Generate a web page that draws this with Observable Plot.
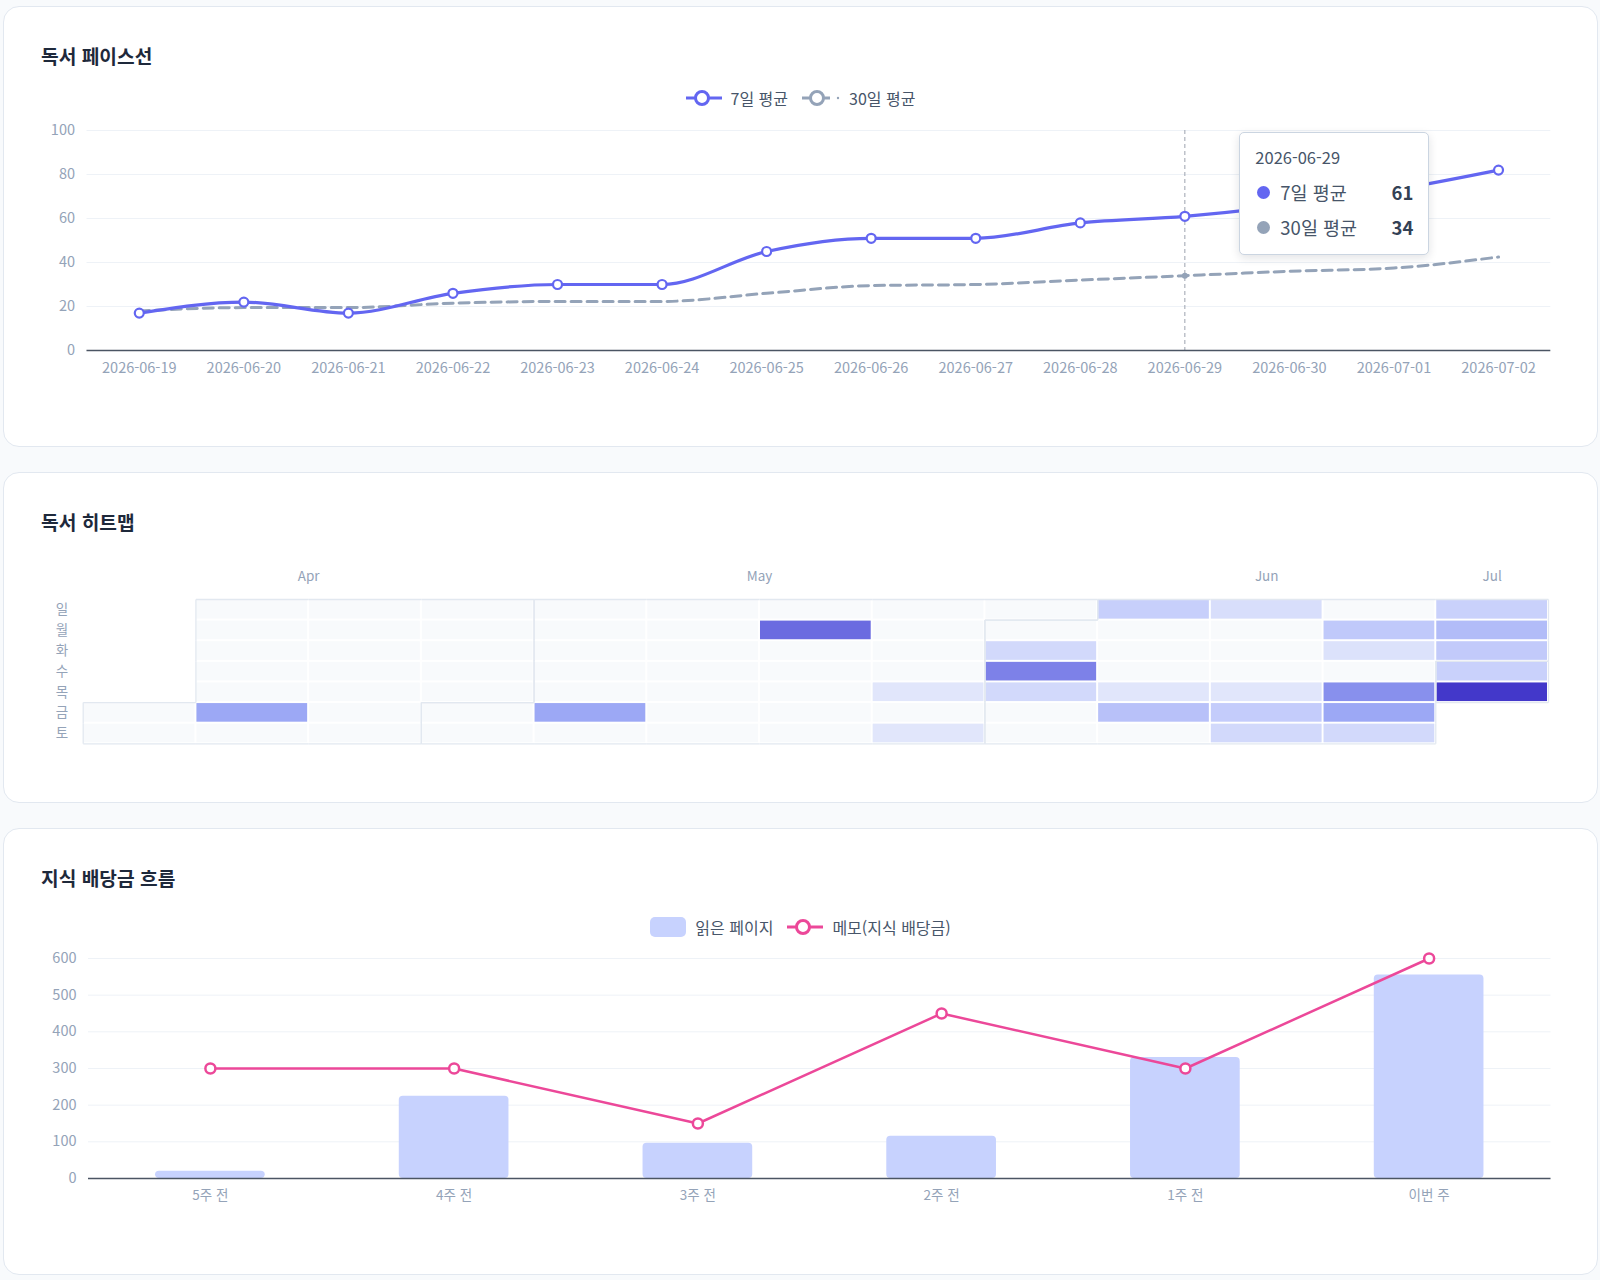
<!DOCTYPE html>
<html lang="ko">
<head>
<meta charset="utf-8">
<script src="https://cdn.jsdelivr.net/npm/d3@7"></script>
<script src="https://cdn.jsdelivr.net/npm/@observablehq/plot@0.6"></script>
<style>
html,body{margin:0;padding:0}
body{width:1600px;height:1280px;background:#f8fafc;position:relative;overflow:hidden;font-family:"Noto Sans CJK KR","Noto Sans",sans-serif}
.card{position:absolute;left:3px;width:1595px;box-sizing:border-box;background:#fff;border:1px solid #e2e8f0;border-radius:16px}
.title{position:absolute;left:37px;top:37px;line-height:24px;font-size:19.2px;font-weight:700;color:#1e293b;white-space:nowrap}
.legend{position:absolute;left:0;right:0;height:24px;display:flex;justify-content:center;align-items:center;font-size:16px;color:#475569;white-space:nowrap}
.legend .item{display:flex;align-items:center;margin:0 7px}
.legend svg{margin-right:9px;display:block}
.chart{position:absolute;left:0}
.chart svg{display:block;overflow:visible}
.tip{position:absolute;width:190px;height:123px;box-sizing:border-box;background:#fff;border:1px solid #cbd5e1;border-radius:5px;box-shadow:0 3px 10px rgba(15,23,42,0.12);padding:12px 15px 0 15px;color:#475569;font-size:18.5px}
.tip .date{line-height:24px;height:24px;font-size:16.5px}
.tip .row{display:flex;align-items:center;height:24px;line-height:24px;margin-top:11px}
.tip .dot{width:13px;height:13px;border-radius:50%;margin-right:10px;margin-left:2px}
.tip .lab{flex:1}
.tip .val{font-weight:700;color:#334155}
</style>
</head>
<body>
<div class="card" id="c1" style="top:6px;height:441px">
  <div class="title">독서 페이스선</div>
  <div class="legend" id="lg1" style="top:79px"></div>
  <div class="chart" id="ch1" style="top:105px"></div>
</div>
<div class="card" id="c2" style="top:472px;height:331px">
  <div class="title">독서 히트맵</div>
  <div class="chart" id="ch2" style="top:87px"></div>
</div>
<div class="card" id="c3" style="top:828px;height:447px">
  <div class="title">지식 배당금 흐름</div>
  <div class="legend" id="lg3" style="top:86px"></div>
  <div class="chart" id="ch3" style="top:111px"></div>
</div>
<script>
// ---------- DATA ----------
// 독서 페이스선
const paceDates = ["2026-06-19","2026-06-20","2026-06-21","2026-06-22","2026-06-23","2026-06-24","2026-06-25","2026-06-26","2026-06-27","2026-06-28","2026-06-29","2026-06-30","2026-07-01","2026-07-02"];
const avg7 = [17, 22, 17, 26, 30, 30, 45, 51, 51, 58, 61, 66, 73, 82];
const avg30 = [18, 19.5, 19.5, 21.5, 22.3, 22.3, 26, 29.5, 30, 32, 34, 36, 37.5, 42.5];
const paceTicks = [0, 20, 40, 60, 80, 100];
const seriesNames = ["7일 평균", "30일 평균"];
const hoverDate = "2026-06-29";

// 독서 히트맵
const heatStart = "2026-04-10";
const heatEnd = "2026-07-02";
const readingDates = ["2026-04-17","2026-05-08","2026-05-18","2026-05-28","2026-05-30","2026-06-02","2026-06-03","2026-06-04","2026-06-07","2026-06-11","2026-06-12","2026-06-14","2026-06-18","2026-06-19","2026-06-20","2026-06-22","2026-06-23","2026-06-25","2026-06-26","2026-06-27","2026-06-28","2026-06-29","2026-06-30","2026-07-01","2026-07-02"];
const readingPages = [50, 50, 75, 2, 2, 15, 66, 15, 25, 2, 34, 10, 2, 27, 15, 29, 6, 60, 50, 15, 23, 37, 28, 23, 100];
const dayNames = ["일","월","화","수","목","금","토"];
const monthNames = ["Jan","Feb","Mar","Apr","May","Jun","Jul","Aug","Sep","Oct","Nov","Dec"];

// 지식 배당금 흐름
const weekLabels = ["5주 전","4주 전","3주 전","2주 전","1주 전","이번 주"];
const pagesRead = [20, 224, 96, 115, 330, 555];
const memoDividend = [300, 300, 150, 450, 300, 600];
const flowTicks = [0, 100, 200, 300, 400, 500, 600];
const flowNames = ["읽은 페이지", "메모(지식 배당금)"];

// ---------- STYLE ----------
const C7 = "#6366f1", C30 = "#94a3b8", CBAR = "#c7d2fe", CMEMO = "#ec4899";
const FONT = '"Noto Sans CJK KR","Noto Sans",sans-serif';
const W = 1593;
const baseStyle = {fontFamily: FONT, fontSize: "13px", color: "#94a3b8", background: "transparent", overflow: "visible"};
const gridColor = "#eef2f7", axisColor = "#4b5563";

// ---------- LEGENDS ----------
function lineSym(color, dashed) {
  if (dashed) {
    return `<svg width="38" height="18"><line x1="0" y1="9" x2="28" y2="9" stroke="${color}" stroke-width="3"/><circle cx="15" cy="9" r="6.5" fill="#fff" stroke="${color}" stroke-width="3"/><circle cx="36" cy="9" r="1.2" fill="${color}"/></svg>`;
  }
  return `<svg width="36" height="18"><line x1="0" y1="9" x2="36" y2="9" stroke="${color}" stroke-width="3"/><circle cx="16" cy="9" r="6.5" fill="#fff" stroke="${color}" stroke-width="3"/></svg>`;
}
document.getElementById("lg1").innerHTML =
  `<span class="item">${lineSym(C7,false)}<span>${seriesNames[0]}</span></span>` +
  `<span class="item">${lineSym(C30,true)}<span>${seriesNames[1]}</span></span>`;
document.getElementById("lg3").innerHTML =
  `<span class="item"><svg width="36" height="20"><rect x="0" y="0" width="36" height="20" rx="5" fill="${CBAR}"/></svg><span>${flowNames[0]}</span></span>` +
  `<span class="item">${lineSym(CMEMO,false)}<span>${flowNames[1]}</span></span>`;

// ---------- CHART 1 ----------
const paceRows = paceDates.map((d, i) => ({date: d, a7: avg7[i], a30: avg30[i]}));
const hoverRow = paceRows.filter(r => r.date === hoverDate);
const ch1 = Plot.plot({
  width: W, height: 283, marginTop: 18, marginBottom: 45, marginLeft: 82.5, marginRight: 46.7,
  style: baseStyle,
  x: {type: "point", domain: paceDates, padding: 0.5, round: false, label: null},
  y: {domain: [0, 100], label: null},
  marks: [
    Plot.gridY(paceTicks, {stroke: gridColor, strokeOpacity: 1, strokeWidth: 1}),
    Plot.axisY(paceTicks, {tickSize: 0, tickPadding: 12, label: null, fontSize: 14.5}),
    Plot.axisX({tickSize: 0, tickPadding: 12, label: null, fontSize: 14.5}),
    Plot.ruleX(hoverRow, {x: "date", stroke: "#9ca3af", strokeWidth: 1, strokeDasharray: "4,3"}),
    Plot.line(paceRows, {x: "date", y: "a30", curve: "monotone-x", stroke: C30, strokeWidth: 3, strokeDasharray: "10,6"}),
    Plot.dot(hoverRow, {x: "date", y: "a30", r: 3, fill: C30}),
    Plot.line(paceRows, {x: "date", y: "a7", curve: "monotone-x", stroke: C7, strokeWidth: 3.2}),
    Plot.dot(paceRows, {x: "date", y: "a7", r: 4.5, fill: "#fff", stroke: C7, strokeWidth: 2.2}),
    Plot.ruleY([0], {stroke: axisColor, strokeWidth: 1.5})
  ]
});
document.getElementById("ch1").appendChild(ch1);
// tooltip anchored to the hovered date through the x scale
const hx = ch1.scale("x").apply(hoverDate);
const tip = document.createElement("div");
tip.className = "tip";
tip.style.left = (hx + 55) + "px";
tip.style.top = "125px";
tip.innerHTML = `<div class="date">${hoverDate}</div>` +
  `<div class="row"><span class="dot" style="background:${C7}"></span><span class="lab">${seriesNames[0]}</span><span class="val">${Math.round(hoverRow[0].a7)}</span></div>` +
  `<div class="row"><span class="dot" style="background:${C30}"></span><span class="lab">${seriesNames[1]}</span><span class="val">${Math.round(hoverRow[0].a30)}</span></div>`;
document.getElementById("c1").appendChild(tip);

// ---------- CHART 2 (heatmap) ----------
const start = new Date(heatStart), end = new Date(heatEnd);
const week0 = d3.utcSunday.floor(start);
const pageByDate = new Map(readingDates.map((d, i) => [d, readingPages[i]]));
const fmt = d3.utcFormat("%Y-%m-%d");
const days = d3.utcDay.range(start, d3.utcDay.offset(end, 1)).map(dt => ({
  key: fmt(dt), w: d3.utcSunday.count(week0, dt), d: dt.getUTCDay(), m: dt.getUTCMonth(), v: pageByDate.get(fmt(dt)) || 0
}));
const cellMap = new Map(days.map(c => [c.w + ":" + c.d, c]));
const edges = [];
for (const c of days) {
  const nb = [[c.w, c.d - 1, "t"], [c.w, c.d + 1, "b"], [c.w - 1, c.d, "l"], [c.w + 1, c.d, "r"]];
  for (const [w, d, side] of nb) {
    const o = cellMap.get(w + ":" + d);
    if (!o || o.m !== c.m) {
      if (side === "t") edges.push({x1: c.w, y1: c.d, x2: c.w + 1, y2: c.d});
      if (side === "b") edges.push({x1: c.w, y1: c.d + 1, x2: c.w + 1, y2: c.d + 1});
      if (side === "l") edges.push({x1: c.w, y1: c.d, x2: c.w, y2: c.d + 1});
      if (side === "r") edges.push({x1: c.w + 1, y1: c.d, x2: c.w + 1, y2: c.d + 1});
    }
  }
}
const months = d3.groups(days, c => c.m).map(([m, cs]) => ({
  name: monthNames[m], x: (d3.min(cs, c => c.w) + d3.max(cs, c => c.w)) / 2 + 0.5
}));
const nWeeks = d3.max(days, c => c.w) + 1;
const ch2 = Plot.plot({
  width: W, height: 203.3, marginTop: 39, marginBottom: 20, marginLeft: 78.7, marginRight: 49,
  style: baseStyle,
  x: {domain: [0, nWeeks], axis: null},
  y: {domain: [0, 7], reverse: true, axis: null},
  color: {type: "linear", domain: [1, 25, 50, 75, 100], range: ["#e2e7fb", "#c7cffb", "#9ca8f5", "#6b6be0", "#4338ca"]},
  marks: [
    Plot.rect(days, {x1: "w", x2: c => c.w + 1, y1: "d", y2: c => c.d + 1, fill: "#f8fafc", inset: 1}),
    Plot.rect(days.filter(c => c.v > 0), {x1: "w", x2: c => c.w + 1, y1: "d", y2: c => c.d + 1, fill: "v", inset: 1}),
    Plot.link(edges, {x1: "x1", y1: "y1", x2: "x2", y2: "y2", stroke: "#e2e8f0", strokeWidth: 1.3}),
    Plot.axisY(d3.range(7).map(i => i + 0.5), {tickSize: 0, tickPadding: 15, tickFormat: t => dayNames[Math.floor(t)], fontSize: 13.5}),
    Plot.text(months, {x: "x", y: -1.1, text: "name", fill: "#94a3b8", fontSize: 13.5})
  ]
});
document.getElementById("ch2").appendChild(ch2);

// ---------- CHART 3 ----------
const flowRows = weekLabels.map((w, i) => ({week: w, pages: pagesRead[i], memo: memoDividend[i]}));
const ch3 = Plot.plot({
  width: W, height: 283, marginTop: 18, marginBottom: 45, marginLeft: 84, marginRight: 46.5,
  style: baseStyle,
  x: {type: "band", domain: weekLabels, paddingInner: 0.55, paddingOuter: 0.275, round: false, label: null},
  y: {domain: [0, 600], label: null},
  marks: [
    Plot.gridY(flowTicks, {stroke: gridColor, strokeOpacity: 1, strokeWidth: 1}),
    Plot.axisY(flowTicks, {tickSize: 0, tickPadding: 12, label: null, fontSize: 14.5}),
    Plot.axisX({tickSize: 0, tickPadding: 12, label: null, fontSize: 13.5}),
    Plot.barY(flowRows, {x: "week", y: "pages", fill: CBAR, rx: 4}),
    Plot.ruleY([0], {stroke: axisColor, strokeWidth: 1.5}),
    Plot.line(flowRows, {x: "week", y: "memo", stroke: CMEMO, strokeWidth: 2.5}),
    Plot.dot(flowRows, {x: "week", y: "memo", r: 5, fill: "#fff", stroke: CMEMO, strokeWidth: 2.5})
  ]
});
document.getElementById("ch3").appendChild(ch3);
</script>
</body>
</html>
